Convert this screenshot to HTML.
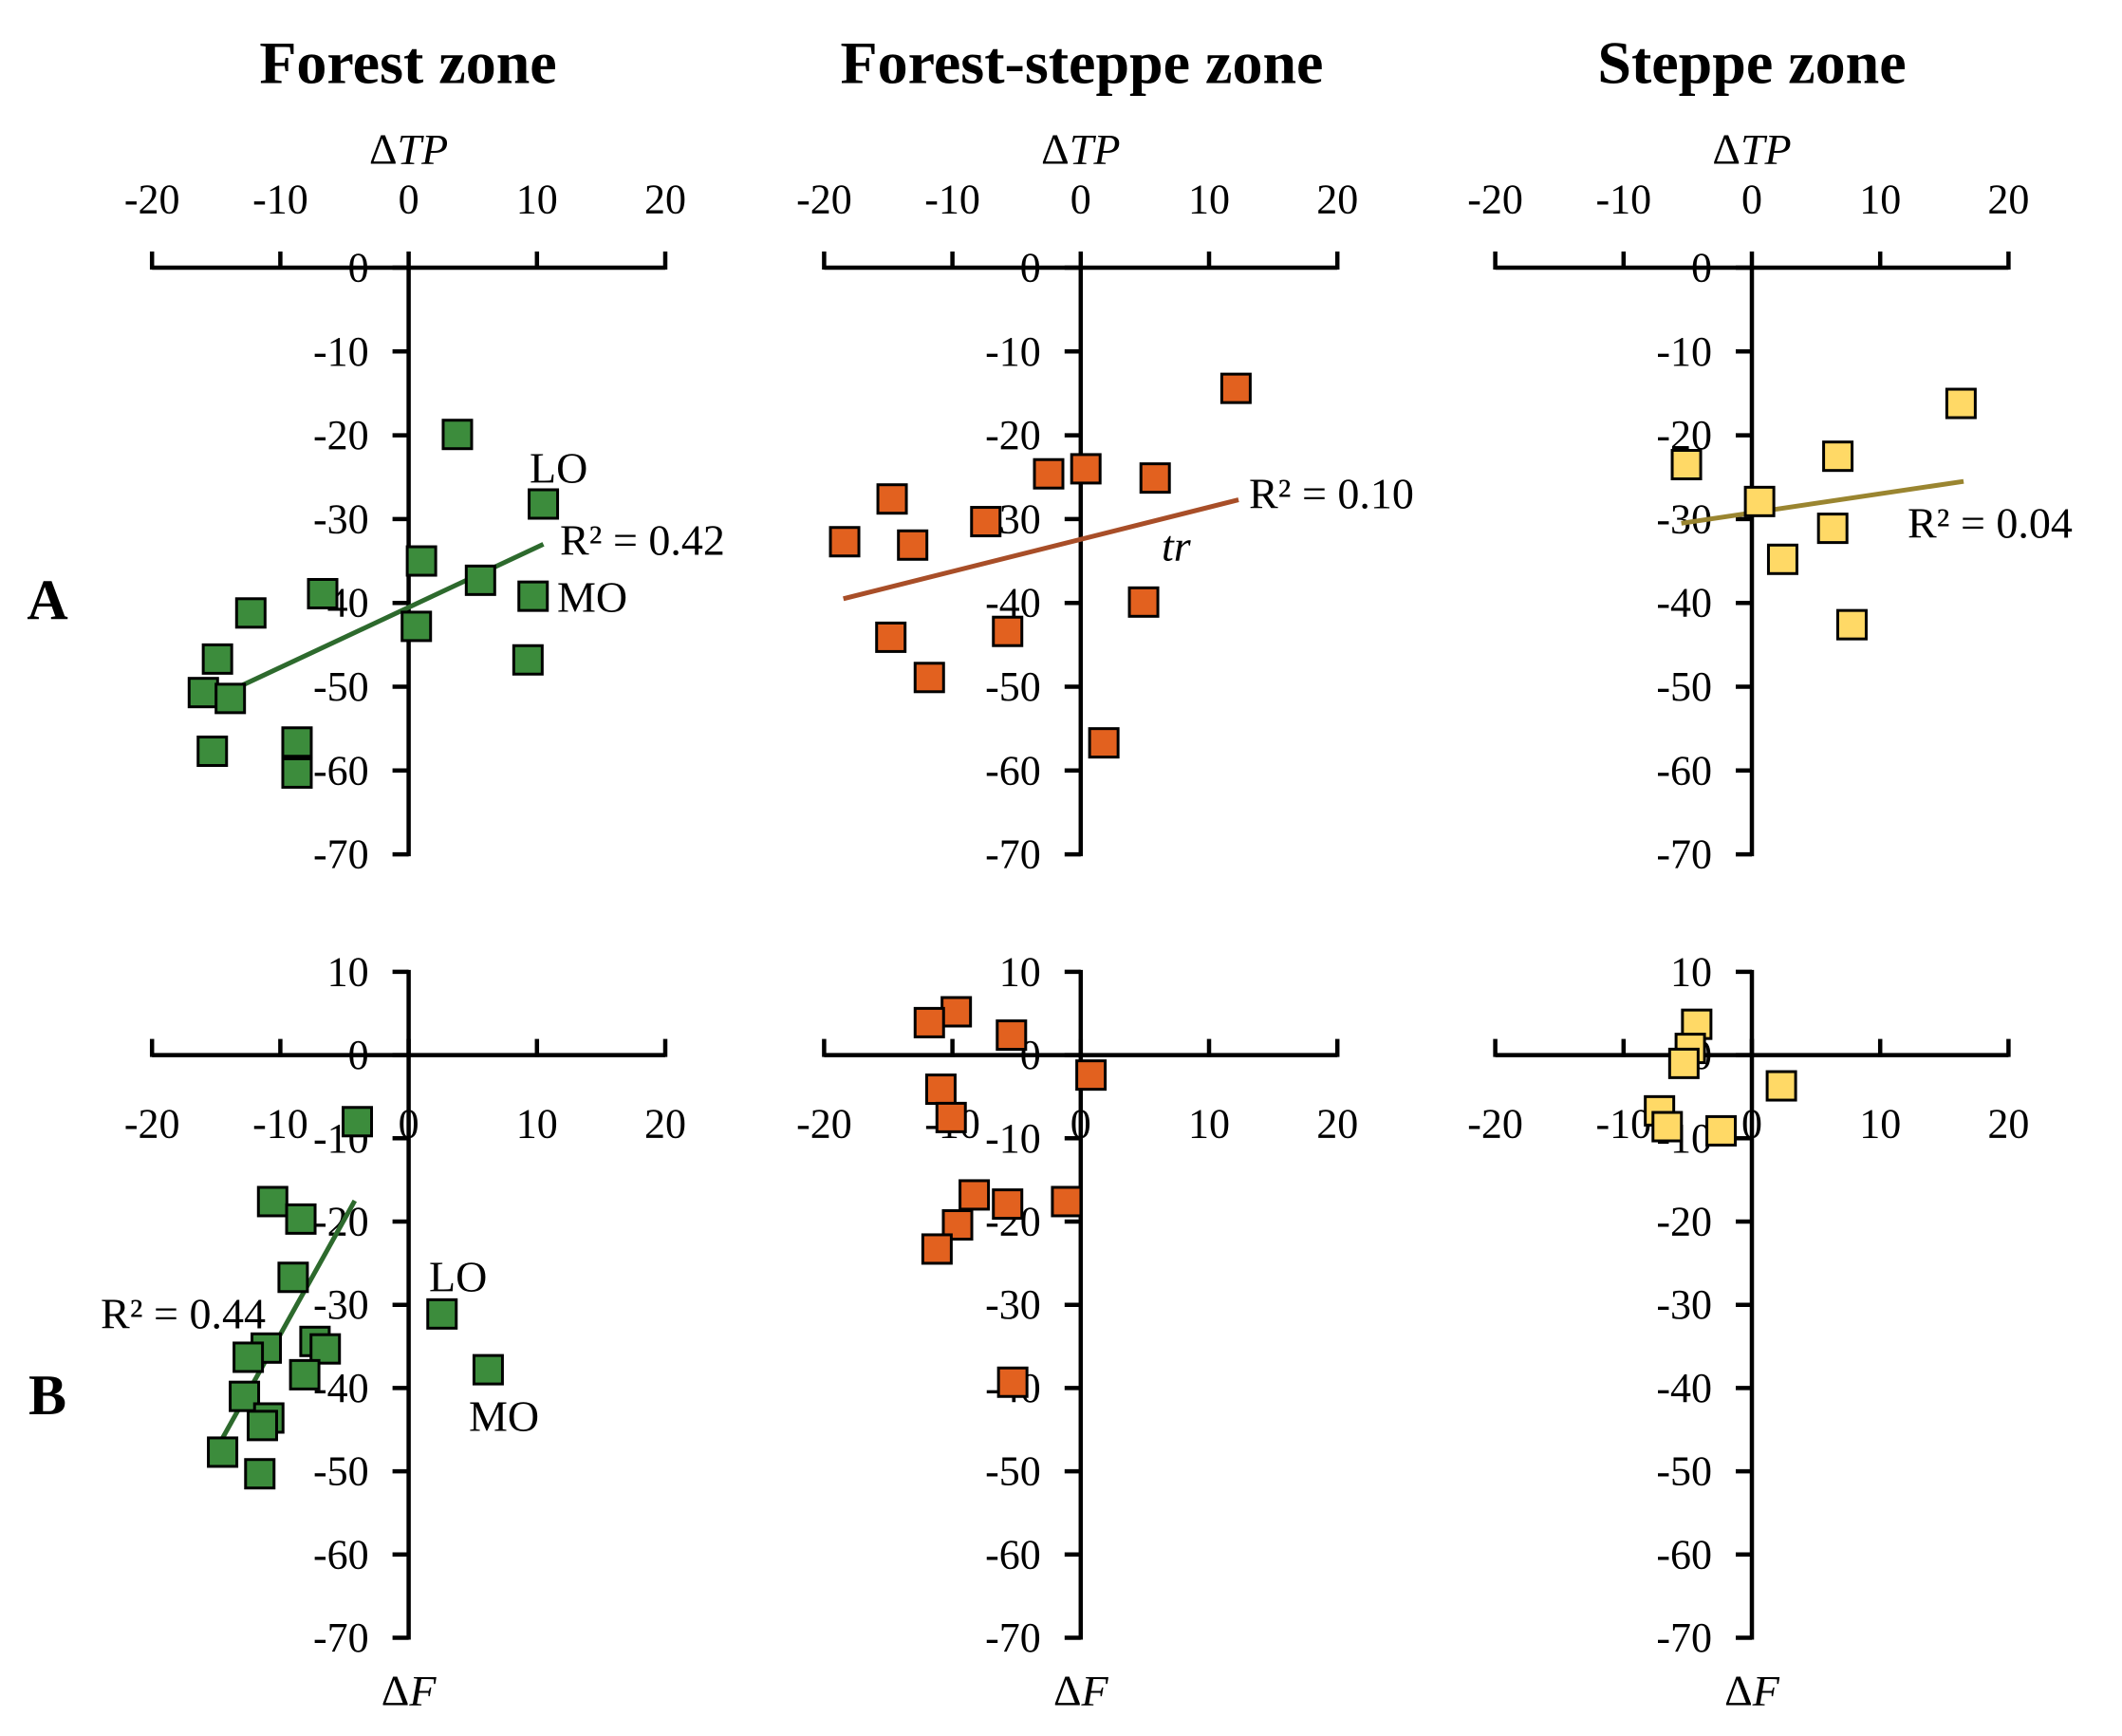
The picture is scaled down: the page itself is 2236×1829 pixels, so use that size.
<!DOCTYPE html>
<html><head><meta charset="utf-8"><style>
html,body{margin:0;padding:0;background:#fff}
svg{display:block;font-family:"Liberation Serif",serif}
</style></head><body>
<svg id="c" width="2236" height="1829" viewBox="0 0 2236 1829" xmlns="http://www.w3.org/2000/svg"></svg>
<script>
const zones = ["Forest zone","Forest-steppe zone","Steppe zone"];
const xTicks = [-20,-10,0,10,20];
const yTicksA = [0,-10,-20,-30,-40,-50,-60,-70];
const yTicksB = [10,0,-10,-20,-30,-40,-50,-60,-70];
const forestAx = [3.8,10.5,1,5.6,9.7,0.6,9.3,-6.7,-12.3,-14.9,-16,-13.9,-15.3,-8.7,-8.7];
const forestAy = [-19.9,-28.2,-35,-37.3,-39.2,-42.8,-46.8,-38.9,-41.2,-46.7,-50.7,-51.4,-57.7,-56.6,-60.3];
const fsAx = [12.1,0.4,-2.5,5.8,-14.7,-7.4,-18.4,-13.1,4.9,-14.8,-5.7,-11.8,1.8];
const fsAy = [-14.4,-24,-24.6,-25.1,-27.6,-30.3,-32.7,-33.1,-39.9,-44.1,-43.4,-48.9,-56.7];
const stAx = [16.3,6.7,-5.1,0.6,6.3,2.4,7.8];
const stAy = [-16.2,-22.5,-23.5,-27.9,-31.1,-34.8,-42.6];
const forestBx = [-4,-10.6,-8.4,-9,2.6,-11.1,-12.5,-7.3,-6.5,6.2,-8.1,-12.8,-10.9,-11.4,-14.5,-11.6];
const forestBy = [-8,-17.6,-19.7,-26.7,-31.1,-35.2,-36.3,-34.4,-35.3,-37.8,-38.4,-41,-43.6,-44.5,-47.7,-50.3];
const fsBx = [-9.7,-11.8,-5.4,0.8,-10.9,-10.1,-8.3,-5.7,-1.1,-9.6,-11.2,-5.3];
const fsBy = [5.2,3.9,2.4,-2.4,-4.1,-7.5,-16.8,-17.9,-17.6,-20.4,-23.3,-39.3];
const stBx = [-4.3,-4.8,-5.3,2.3,-7.2,-6.6,-2.4];
const stBy = [3.7,0.8,-1,-3.7,-6.7,-8.6,-9.1];
const trendA = [[-16,-52,10.5,-33],[-18.5,-39.5,12.3,-27.7],[-5.5,-30.5,16.5,-25.5]];
const trendB = [[-14.5,-46,-4.2,-17.5]];

const svg=document.getElementById('c');
const NS="http://www.w3.org/2000/svg";
function mk(tag,attrs,parent){const e=document.createElementNS(NS,tag);for(const k in attrs)e.setAttribute(k,attrs[k]);(parent||svg).appendChild(e);return e;}
function txt(x,y,s,size,anchor,parent,extra){const t=mk('text',Object.assign({x:x,y:y,'font-size':size,'text-anchor':anchor||'middle','dominant-baseline':'central',fill:'#000'},extra||{}),parent);t.textContent=s;return t;}

const xZero=[430.6,1138.8,1846];
const XS=13.52;
const fills=['#3c8c3c','#e2611f','#ffd966'];
const lineCols=['#2d6a2d','#a84e28','#9a8530'];
const TF=44;

function panel(p,row){
  const g=mk('g',{});
  
  
  const y0 = row==='A'?282:1111.6, YS = row==='A'?8.83:8.77;
  const X=v=>xZero[p]+v*XS, Y=v=>y0-v*YS;
  const yt = row==='A'?yTicksA:yTicksB;
  mk('line',{x1:X(-20),x2:X(20),y1:Y(0),y2:Y(0),stroke:'#000','stroke-width':4.5},g);
  xTicks.forEach(v=>{
    mk('line',{x1:X(v),x2:X(v),y1:Y(0)+2,y2:Y(0)-17,stroke:'#000','stroke-width':4.5},g);
    const t=txt(X(v),row==='A'?210:1184,(v<0?'-':'')+Math.abs(v),TF,'middle',g);
    
    
  });
  mk('line',{x1:X(0),x2:X(0),y1:Y(yt[0])-2,y2:Y(-70)+2,stroke:'#000','stroke-width':4.5},g);
  yt.forEach(v=>{
    mk('line',{x1:X(0)-17,x2:X(0),y1:Y(v),y2:Y(v),stroke:'#000','stroke-width':4.5},g);
    const t=txt(X(0)-42,Y(v),(v<0?'-':'')+Math.abs(v),TF,'end',g);
    
    
  });
  const at=txt(X(0),row==='A'?157:1781,'',46,'middle',g);
  
  
  at.textContent='Δ';
  const ti=mk('tspan',{'font-style':'italic'},at);ti.textContent=row==='A'?'TP':'F';
  const tr=(row==='A'?trendA:trendB)[p];
  if(tr){
    const l=mk('line',{x1:X(tr[0]),y1:Y(tr[1]),x2:X(tr[2]),y2:Y(tr[3]),stroke:lineCols[p],'stroke-width':5},g);
    
    
  }
  const xs=[[forestAx,fsAx,stAx],[forestBx,fsBx,stBx]][row==='A'?0:1][p];
  const ys=[[forestAy,fsAy,stAy],[forestBy,fsBy,stBy]][row==='A'?0:1][p];
  xs.forEach((v,i)=>{
    const r=mk('rect',{x:X(v)-15,y:Y(ys[i])-15,width:30,height:30,fill:fills[p],stroke:'#000','stroke-width':3},g);
    
    
  });
  return g;
}
['A','B'].forEach(r=>[0,1,2].forEach(p=>panel(p,r)));

const titleX=[430,1140,1846];
zones.forEach((z,i)=>{const t=txt(titleX[i],66,z,64,'middle',svg,{'font-weight':'bold'});
  
  });
const la=txt(50,632,'A',60,'middle',svg,{'font-weight':'bold'});


const lb=txt(50,1470,'B',60,'middle',svg,{'font-weight':'bold'});



function ann(x,y,s,name,anchor,italic){const t=txt(x,y,s,46,anchor||'start',svg,italic?{'font-style':'italic'}:{});
  
  }
ann(558,493,'LO','label-lo-a');
ann(590,569,'R² = 0.42','r2-forest-a');
ann(587,629,'MO','label-mo-a');
ann(1316,520,'R² = 0.10','r2-forest-steppe-a');
ann(1224,575,'tr','label-tr',null,true);
ann(2010,551,'R² = 0.04','r2-steppe-a');
ann(193,1384,'R² = 0.44','r2-forest-b','middle');
ann(452,1345,'LO','label-lo-b');
ann(494,1492,'MO','label-mo-b');
</script>
</body></html>
